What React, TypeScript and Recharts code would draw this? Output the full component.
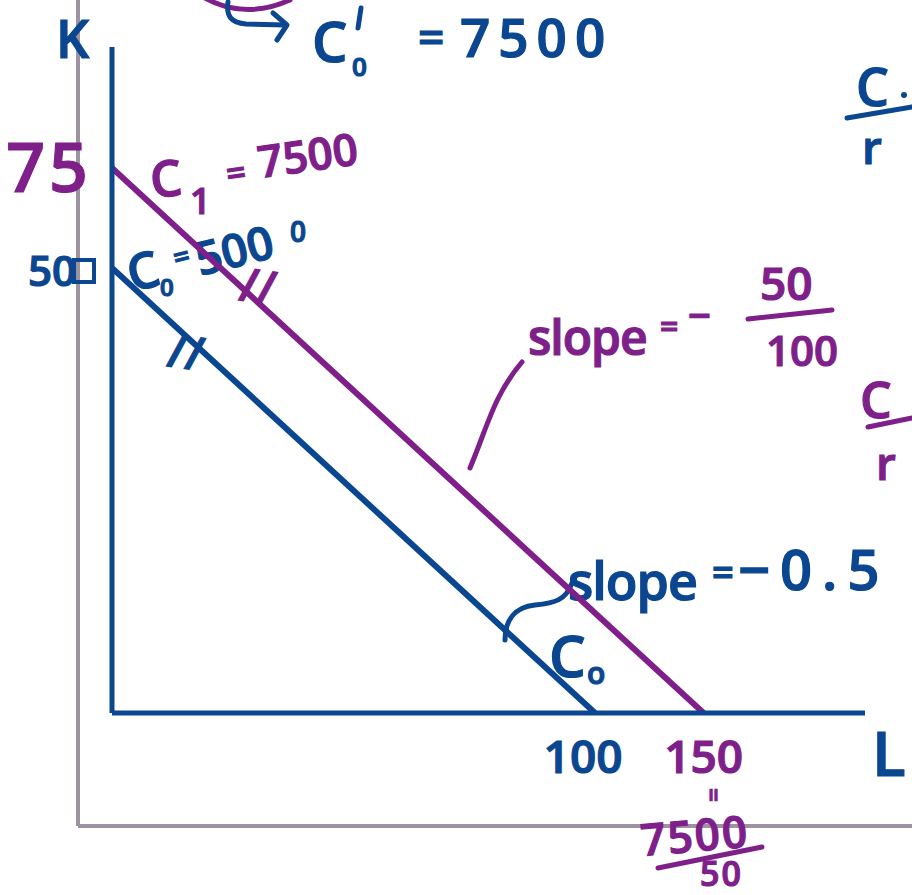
import { LineChart, Line, XAxis, YAxis, Customized } from "recharts";

// isocost lines: capital K against labour L
const budgetC0 = [
  { L: 0, K: 50 },
  { L: 100, K: 0 },
];
const budgetC1 = [
  { L: 0, K: 75 },
  { L: 150, K: 0 },
];
const lTicks = [100, 150];
const kTicks = [50, 75];

const BLUE = "#0b4690";
const PURPLE = "#7e1f8a";
const GRAY = "#9d929f";
const FONT = "'Open Sans', sans-serif";

const tickColor = (v: number) => (v === 100 || v === 50 ? BLUE : PURPLE);

const Pen = ({ x, y, size, color, rotate = 0, anchor = "start", spacing = 0, children }: any) => (
  <text
    x={x}
    y={y}
    fontSize={size}
    fill={color}
    stroke={color}
    strokeWidth={1.2}
    fontFamily={FONT}
    fontWeight={600}
    textAnchor={anchor}
    letterSpacing={spacing}
    transform={rotate ? `rotate(${rotate} ${x} ${y})` : undefined}
  >
    {children}
  </text>
);

const LTick = ({ x, y, payload }: any) => (
  <Pen
    x={x + (payload.value === 100 ? -12 : 0)}
    y={y + 52}
    size={46}
    color={tickColor(payload.value)}
    anchor="middle"
  >
    {payload.value}
  </Pen>
);

const KTick = ({ x, y, payload }: any) => {
  const v = payload.value;
  if (v === 50) {
    return (
      <g>
        <Pen x={x - 28} y={y + 18} size={42} color={BLUE} anchor="end">
          50
        </Pen>
        <rect x={x - 30} y={y - 8} width={20} height={22} fill="none" stroke={BLUE} strokeWidth={4} />
      </g>
    );
  }
  return (
    <Pen x={x - 12} y={y + 24} size={68} color={PURPLE} anchor="end" spacing={4}>
      {v}
    </Pen>
  );
};

const stroke = (color: string) => ({
  fill: "none",
  stroke: color,
  strokeWidth: 5,
  strokeLinecap: "round" as const,
  strokeLinejoin: "round" as const,
});

// handwritten notes around the graph
const Notes = () => (
  <g>
    <line x1={78} y1={0} x2={78} y2={826} stroke={GRAY} strokeWidth={4} />
    <line x1={78} y1={826} x2={912} y2={826} stroke={GRAY} strokeWidth={4} />

    <path d="M205,-2 Q245,20 290,0" {...stroke(PURPLE)} />
    <path d="M228,2 C226,16 231,23 246,24 L285,25" {...stroke(BLUE)} />
    <path d="M273,13 L287,25 L277,40" {...stroke(BLUE)} />

    <Pen x={56} y={58} size={52} color={BLUE}>K</Pen>
    <Pen x={872} y={776} size={62} color={BLUE}>L</Pen>

    <Pen x={312} y={62} size={56} color={BLUE}>C</Pen>
    <Pen x={352} y={76} size={26} color={BLUE}>0</Pen>
    <path d="M361,8 L358,28" {...stroke(BLUE)} />
    <Pen x={418} y={54} size={46} color={BLUE}>=</Pen>
    <Pen x={460} y={57} size={53} color={BLUE} spacing={8}>7500</Pen>

    <Pen x={152} y={198} size={50} color={PURPLE} rotate={-6}>C</Pen>
    <Pen x={190} y={214} size={36} color={PURPLE}>1</Pen>
    <Pen x={228} y={186} size={34} color={PURPLE} rotate={-8}>=</Pen>
    <Pen x={260} y={178} size={44} color={PURPLE} rotate={-8}>7500</Pen>

    <Pen x={132} y={292} size={50} color={BLUE} rotate={-14}>C</Pen>
    <Pen x={160} y={296} size={24} color={BLUE}>0</Pen>
    <Pen x={176} y={268} size={28} color={BLUE} rotate={-14}>=</Pen>
    <Pen x={200} y={276} size={46} color={BLUE} rotate={-14}>500</Pen>
    <Pen x={290} y={242} size={28} color={BLUE}>0</Pen>

    <Pen x={238} y={300} size={46} color={PURPLE} rotate={8}>//</Pen>
    <Pen x={166} y={366} size={46} color={BLUE} rotate={8}>//</Pen>

    <Pen x={528} y={355} size={48} color={PURPLE} spacing={-1}>slope</Pen>
    <Pen x={660} y={338} size={32} color={PURPLE}>=</Pen>
    <Pen x={688} y={330} size={40} color={PURPLE}>−</Pen>
    <Pen x={760} y={300} size={46} color={PURPLE}>50</Pen>
    <path d="M748,319 L832,310" {...stroke(PURPLE)} />
    <Pen x={766} y={366} size={42} color={PURPLE}>100</Pen>
    <path d="M470,468 C488,425 494,395 522,362" {...stroke(PURPLE)} />

    <Pen x={568} y={600} size={52} color={BLUE} spacing={-1}>slope</Pen>
    <Pen x={712} y={586} size={38} color={BLUE}>=</Pen>
    <Pen x={738} y={590} size={56} color={BLUE} spacing={10}>−0.5</Pen>
    <path d="M505,640 C505,620 515,607 535,605 C555,603 566,600 572,583" {...stroke(BLUE)} />

    <Pen x={549} y={677} size={58} color={BLUE}>C</Pen>
    <Pen x={587} y={684} size={30} color={BLUE}>o</Pen>

    <Pen x={705} y={795} size={24} color={PURPLE} rotate={90} anchor="middle">=</Pen>
    <Pen x={642} y={856} size={44} color={PURPLE} rotate={-5} spacing={2}>7500</Pen>
    <path d="M658,868 L762,847" {...stroke(PURPLE)} />
    <Pen x={700} y={886} size={34} color={PURPLE} spacing={2}>50</Pen>

    <Pen x={856} y={106} size={52} color={BLUE}>C</Pen>
    <circle cx={904} cy={95} r={3} fill={BLUE} />
    <path d="M847,118 L912,107" {...stroke(BLUE)} />
    <Pen x={862} y={164} size={46} color={BLUE}>r</Pen>

    <Pen x={860} y={418} size={50} color={PURPLE}>C</Pen>
    <path d="M868,427 L912,418" {...stroke(PURPLE)} />
    <Pen x={876} y={480} size={46} color={PURPLE}>r</Pen>
  </g>
);

export default function App() {
  return (
    <div style={{ position: "absolute", left: 0, top: 0, width: 912, height: 895, background: "#fff" }}>
      <LineChart width={912} height={895} margin={{ top: 47, right: 47, bottom: 122, left: 52 }}>
        <XAxis
          dataKey="L"
          type="number"
          scale="sqrt"
          domain={[0, 243]}
          ticks={lTicks}
          interval={0}
          tickLine={false}
          axisLine={{ stroke: BLUE, strokeWidth: 5 }}
          tick={<LTick />}
          height={60}
          allowDataOverflow
        />
        <YAxis
          type="number"
          scale="sqrt"
          domain={[0, 112]}
          ticks={kTicks}
          interval={0}
          tickLine={false}
          axisLine={{ stroke: BLUE, strokeWidth: 5 }}
          tick={<KTick />}
          width={60}
          allowDataOverflow
        />
        <Line
          data={budgetC0}
          dataKey="K"
          type="linear"
          stroke={BLUE}
          strokeWidth={6}
          dot={false}
          isAnimationActive={false}
        />
        <Line
          data={budgetC1}
          dataKey="K"
          type="linear"
          stroke={PURPLE}
          strokeWidth={6}
          dot={false}
          isAnimationActive={false}
        />
        <Customized component={Notes} />
      </LineChart>
    </div>
  );
}
